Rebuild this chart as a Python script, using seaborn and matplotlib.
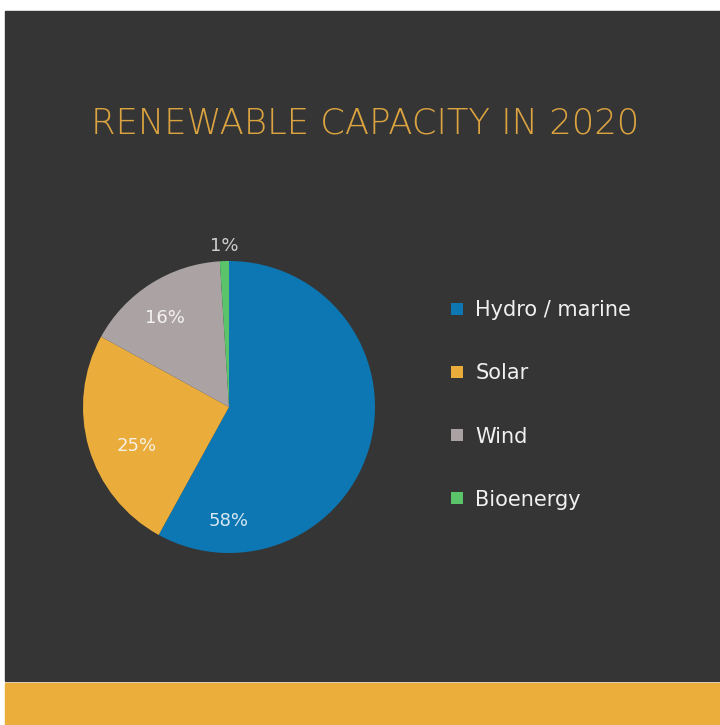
import matplotlib
matplotlib.use("Agg")
import matplotlib.pyplot as plt
import seaborn as sns
from matplotlib.patches import Rectangle
from matplotlib.lines import Line2D

# ---- data ----
categories = ["Hydro / marine", "Solar", "Wind", "Bioenergy"]
shares = [58, 25, 16, 1]
pct_labels = ["58%", "25%", "16%", "1%"]
title = "RENEWABLE CAPACITY IN 2020"

# ---- style ----
sns.set_theme(style="white")
plt.rcParams["font.family"] = ["DejaVu Sans"]
colors = ["#0c77b2", "#eaad3c", "#aba3a3", "#5bc46b"]
bg = "#353535"
accent = "#ebae3b"
label_pos = [(0.0, -0.78), (-0.63, -0.27), (-0.44, 0.61), (-0.03, 1.10)]
label_col = ["#d8e8f2", "#f6f0e4", "#f4f2f2", "#cfcfcf"]

W, H = 720, 725
fig = plt.figure(figsize=(W / 100, H / 100), dpi=100, facecolor="white")

def fx(x): return x / W
def fy(y): return 1 - y / H

fig.patches.append(Rectangle((fx(5), fy(681)), fx(720) - fx(5), fy(11) - fy(681),
                             transform=fig.transFigure, color=bg, zorder=-5))
fig.patches.append(Rectangle((fx(5), fy(725)), fx(720) - fx(5), fy(683) - fy(725),
                             transform=fig.transFigure, color=accent, zorder=-5))

fig.text(fx(365), fy(124), title, ha="center", va="center", color="#dca440",
         fontsize=25.5, fontweight="light")

cx, cy, r = 229, 407, 146
ax = fig.add_axes([fx(cx - r), fy(cy + r), (2 * r) / W, (2 * r) / H])
ax.set_zorder(2)
wedges, _ = ax.pie(shares, colors=colors, startangle=90, counterclock=False,
                   wedgeprops=dict(linewidth=0))
ax.set_xlim(-1, 1)
ax.set_ylim(-1, 1)
ax.set_aspect("equal")
ax.axis("off")
for (px, py), t, c in zip(label_pos, pct_labels, label_col):
    ax.text(px, py, t, ha="center", va="center", color=c, fontsize=13, clip_on=False)

handles = [Line2D([0], [0], marker="s", linestyle="none", markersize=8,
                  markerfacecolor=c, markeredgewidth=0) for c in colors]
leg = fig.legend(handles, categories, loc="upper left",
                 bbox_to_anchor=(fx(440), fy(292)), frameon=False,
                 fontsize=15, labelcolor="#f0f0f0", labelspacing=2.07,
                 handlelength=0.8, handletextpad=0.5, borderaxespad=0)

fig.savefig("out.png", dpi=100, facecolor="white")
